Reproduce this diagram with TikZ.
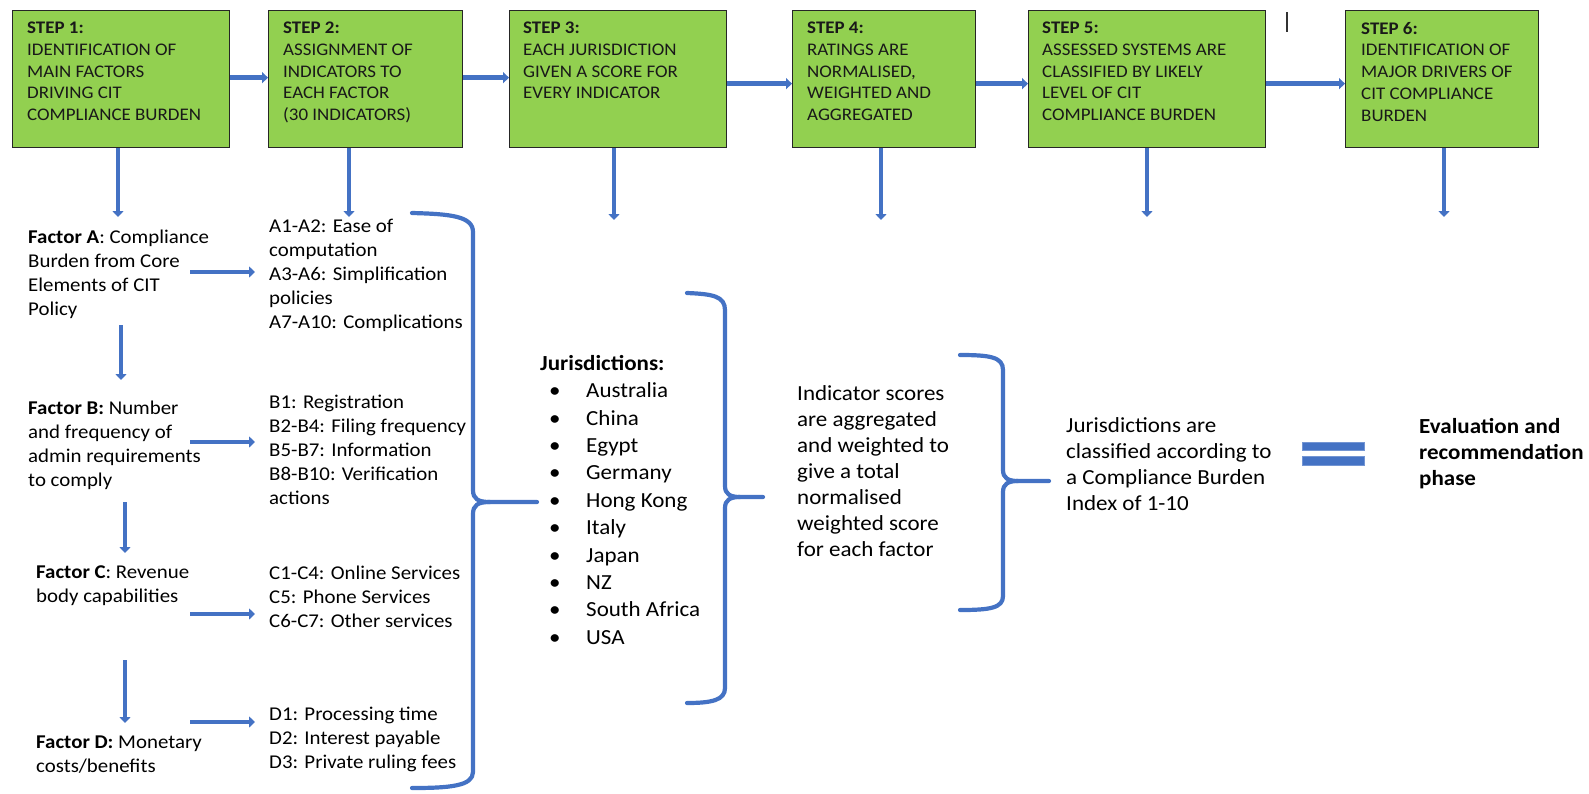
\documentclass[tikz,border=0pt]{standalone}
\usepackage{fontspec}
\setmainfont{Carlito}[FakeStretch=1.07]
\usepackage{tikz}
\usetikzlibrary{arrows.meta, positioning, calc}

\definecolor{stepgreen}{HTML}{92D050}
\definecolor{flowblue}{HTML}{4472C4}

\newcommand{\jitem}[1]{\makebox[46pt][l]{\hspace{9pt}\textbullet}#1}

\tikzset{
  stepbox/.style={draw=black!85, line width=1.3pt, fill=stepgreen, anchor=north west,
    inner sep=0pt, minimum height=137pt},
  steptext/.style={align=left, inner sep=0pt, text=black!90,
    font=\fontsize{17.7}{21.7}\selectfont},
  note/.style={align=left, inner sep=0pt, anchor=north west,
    font=\fontsize{19.5}{24}\selectfont},
  bignote/.style={align=left, inner sep=0pt, anchor=north west,
    font=\fontsize{21.5}{26}\selectfont},
  flow/.style={draw=flowblue, line width=4.5pt, -{Triangle[width=11pt,length=6pt]}},
  brace/.style={draw=flowblue, line width=4.2pt, line cap=round, line join=round},
}

\begin{document}
\begin{tikzpicture}[x=1pt, y=-1pt]
  \useasboundingbox (0,0) rectangle (1589,793);

  % Step boxes along the top
  \foreach \i/\x/\w in {1/12/217, 2/268/194, 3/509/217, 4/792/183, 5/1028/237, 6/1345/193}
    \node[stepbox, minimum width=\w pt] (s\i) at (\x,10) {};

  \node[steptext, below right=12pt and 15pt of s1.north west] (t1)
    {\textbf{STEP 1:}\\IDENTIFICATION OF\\MAIN FACTORS\\DRIVING CIT\\COMPLIANCE BURDEN};
  \node[steptext, below right=12pt and 15pt of s2.north west] (t2)
    {\textbf{STEP 2:}\\ASSIGNMENT OF\\INDICATORS TO\\EACH FACTOR\\(30 INDICATORS)};
  \node[steptext, below right=12pt and 14pt of s3.north west] (t3)
    {\textbf{STEP 3:}\\EACH JURISDICTION\\GIVEN A SCORE FOR\\EVERY INDICATOR};
  \node[steptext, below right=12pt and 15pt of s4.north west] (t4)
    {\textbf{STEP 4:}\\RATINGS ARE\\NORMALISED,\\WEIGHTED AND\\AGGREGATED};
  \node[steptext, below right=12pt and 14pt of s5.north west] (t5)
    {\textbf{STEP 5:}\\ASSESSED SYSTEMS ARE\\CLASSIFIED BY LIKELY\\LEVEL OF CIT\\COMPLIANCE BURDEN};
  \node[steptext, below right=12pt and 16pt of s6.north west] (t6)
    {\textbf{STEP 6:}\\IDENTIFICATION OF\\MAJOR DRIVERS OF\\CIT COMPLIANCE\\BURDEN};

  % stray cursor mark
  \draw[line width=1.3pt, black!80] (1287,12) -- (1287,32);

  % Arrows between steps
  \draw[flow] ([yshift=1.5pt]s1.east) -- ([yshift=1.5pt]s2.west);
  \draw[flow] ([yshift=1.5pt]s2.east) -- ([yshift=1.5pt]s3.west);
  \draw[flow] ([yshift=-4.5pt]s3.east) -- ([yshift=-4.5pt]s4.west);
  \draw[flow] ([yshift=-4.5pt]s4.east) -- ([yshift=-4.5pt]s5.west);
  \draw[flow] ([yshift=-4.5pt]s5.east) -- ([yshift=-4.5pt]s6.west);

  % Arrows down from the steps
  \foreach \i/\x/\y in {1/118/217, 2/349/217, 3/614/220, 4/881/220, 5/1147/217, 6/1444/217} {
    \coordinate (d\i) at (\x,\y);
    \draw[flow] (s\i.south -| d\i) -- (d\i);
  }

  % Factors
  \node[note] (fA) at (28,230) {\textbf{Factor A}: Compliance\\Burden from Core\\Elements of CIT\\Policy};
  \node[note] (fB) at (28,401) {\textbf{Factor B:} Number\\and frequency of\\admin requirements\\to comply};
  \node[note] (fC) at (36,566) {\textbf{Factor C}: Revenue\\body capabilities};
  \node[note] (fD) at (36,736) {\textbf{Factor D:} Monetary\\costs/benefits};

  % Indicators per factor
  \node[note] (lA) at (269,219) {A1-A2: Ease of\\computation\\A3-A6: Simplification\\policies\\A7-A10: Complications};
  \node[note] (lB) at (269,395) {B1: Registration\\B2-B4: Filing frequency\\B5-B7: Information\\B8-B10: Verification\\actions};
  \node[note] (lC) at (269,566) {C1-C4: Online Services\\C5: Phone Services\\C6-C7: Other services};
  \node[note] (lD) at (269,707) {D1: Processing time\\D2: Interest payable\\D3: Private ruling fees};

  \foreach \f/\y in {A/272, B/442, C/614, D/722} {
    \coordinate (from\f) at (190,\y);
    \coordinate (to\f) at (255,\y);
    \draw[flow] (from\f) -- (to\f);
  }

  % Down arrows between factors
  \coordinate (ab1) at (121,325); \coordinate (ab2) at (121,380);
  \coordinate (bc1) at (125,502); \coordinate (bc2) at (125,553);
  \coordinate (cd1) at (125,660); \coordinate (cd2) at (125,723);
  \draw[flow] (ab1) -- (ab2);
  \draw[flow] (bc1) -- (bc2);
  \draw[flow] (cd1) -- (cd2);

  % Jurisdictions
  \node[note, font=\fontsize{21.5}{27.4}\selectfont] (jur) at (540,355)
    {\textbf{Jurisdictions:}\\\jitem{Australia}\\\jitem{China}\\\jitem{Egypt}\\\jitem{Germany}\\
     \jitem{Hong Kong}\\\jitem{Italy}\\\jitem{Japan}\\\jitem{NZ}\\\jitem{South Africa}\\\jitem{USA}};

  \node[bignote] (ind) at (797,385)
    {Indicator scores\\are aggregated\\and weighted to\\give a total\\normalised\\weighted score\\for each factor};
  \node[bignote] (cls) at (1066,417)
    {Jurisdictions are\\classified according to\\a Compliance Burden\\Index of 1-10};
  \node[bignote, font=\fontsize{21.5}{26}\selectfont\bfseries] (eval) at (1419,418)
    {Evaluation and\\recommendation\\phase};

  % Braces
  \draw[brace] (412,213) .. controls (450,214) and (473,216) .. (473,232) -- (473,490)
    .. controls (473,499) and (478,502) .. (490,502) -- (537,502);
  \draw[brace] (490,502) .. controls (478,502) and (473,505) .. (473,514) -- (473,772)
    .. controls (473,786) and (450,788) .. (412,788);

  \draw[brace] (687,293) .. controls (712,294) and (725,296) .. (725,310) -- (725,486)
    .. controls (725,494) and (730,497) .. (740,497) -- (763,497);
  \draw[brace] (740,497) .. controls (730,497) and (725,500) .. (725,508) -- (725,688)
    .. controls (725,700) and (712,703) .. (687,703);

  \draw[brace] (960,355) .. controls (990,355) and (1003,357) .. (1003,370) -- (1003,470)
    .. controls (1003,478) and (1008,481) .. (1018,481) -- (1049,481);
  \draw[brace] (1018,481) .. controls (1008,481) and (1003,484) .. (1003,492) -- (1003,596)
    .. controls (1003,608) and (990,610) .. (960,610);

  % Equals sign
  \fill[flowblue, draw=flowblue!75] (1302,442) rectangle (1364,450);
  \fill[flowblue, draw=flowblue!75] (1302,456) rectangle (1364,465);
\end{tikzpicture}
\end{document}
